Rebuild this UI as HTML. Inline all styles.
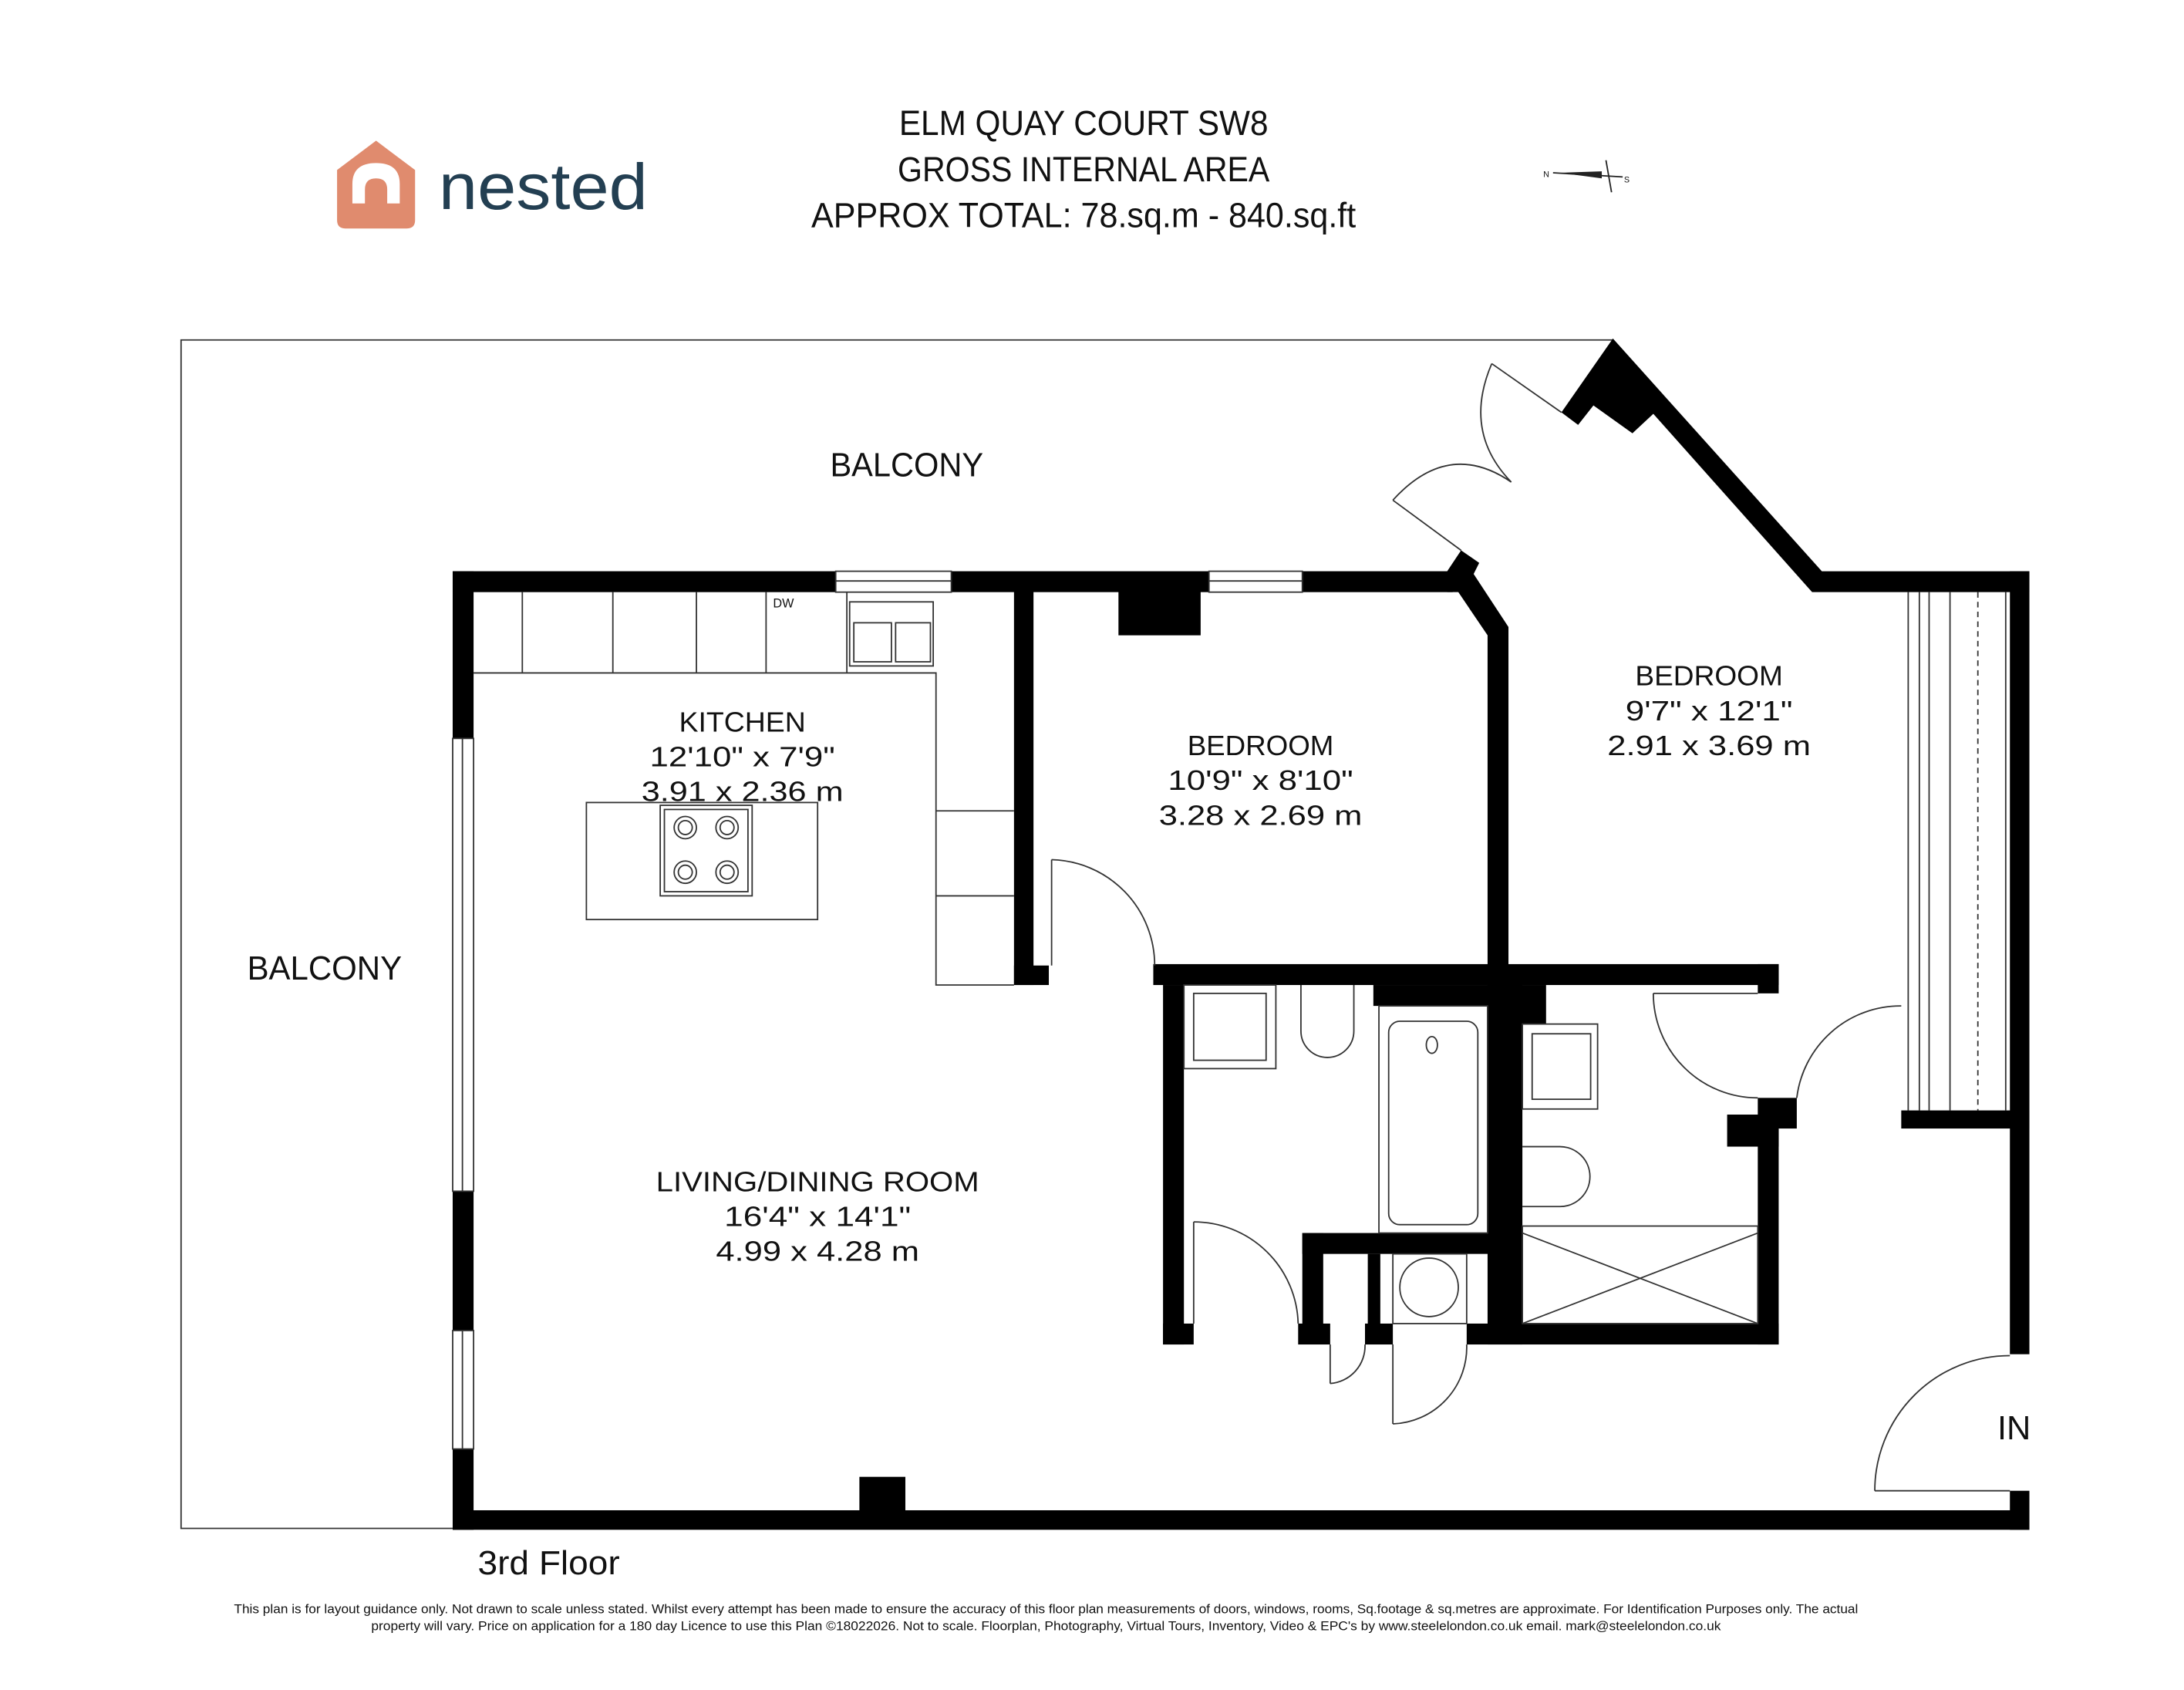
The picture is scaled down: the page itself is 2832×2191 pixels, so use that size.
<!DOCTYPE html>
<html><head><meta charset="utf-8"><style>
html,body{margin:0;padding:0;background:#fff}
svg{display:block}
text{font-family:"Liberation Sans",sans-serif;fill:#111}
</style></head><body>
<svg width="2832" height="2191" viewBox="0 0 1568 1213" preserveAspectRatio="none" xmlns="http://www.w3.org/2000/svg">
<rect width="1568" height="1213" fill="#fff"/>
<!-- logo -->
<path d="M242,122 L270,101 L298,122 L298,158 Q298,164 292,164 L248,164 Q242,164 242,158 Z" fill="#e08b6e"/>
<path d="M253,146 L253,132 Q253,117 270,117 Q287,117 287,132 L287,146 L278,146 L278,136 Q278,128 270,128 Q262,128 262,136 L262,146 Z" fill="#fff"/>
<text x="315" y="150" font-size="47" textLength="150" lengthAdjust="spacingAndGlyphs" style="fill:#233f52">nested</text>
<!-- title -->
<text x="778" y="97" font-size="25" text-anchor="middle" textLength="265" lengthAdjust="spacingAndGlyphs">ELM QUAY COURT SW8</text>
<text x="778" y="130" font-size="25" text-anchor="middle" textLength="267" lengthAdjust="spacingAndGlyphs">GROSS INTERNAL AREA</text>
<text x="778" y="163" font-size="25" text-anchor="middle" textLength="391" lengthAdjust="spacingAndGlyphs">APPROX TOTAL: 78.sq.m - 840.sq.ft</text>
<!-- compass -->
<g stroke="#222" stroke-width="1" fill="none">
<line x1="1115" y1="124" x2="1165" y2="127"/><line x1="1153" y1="115" x2="1157" y2="138"/>
</g>
<path d="M1120,124 L1150,123 L1150,128 Z" fill="#222"/>
<text x="1108" y="127" font-size="6">N</text><text x="1166" y="131" font-size="6">S</text>
<!-- balcony outline -->
<polyline points="1158,244 130,244 130,1097 325,1097" fill="none" stroke="#333" stroke-width="1"/>
<!-- walls -->
<g fill="#000">
<rect x="325" y="410" width="275" height="15"/>
<rect x="683" y="410" width="185" height="15"/>
<rect x="935" y="410" width="108" height="15"/>
<polygon points="1039,410 1049,395 1062,404 1058,412 1083,450 1083,700 1068,700 1068,456 1047,425 1039,425"/>
<polygon points="1158,243 1308,410 1457,410 1457,425 1301,425 1187,297 1172,311 1144,291 1133,305 1121,296"/>
<rect x="325" y="410" width="15" height="120"/>
<rect x="325" y="855" width="15" height="100"/>
<rect x="325" y="1040" width="15" height="58"/>
<rect x="325" y="1084" width="1132" height="14"/>
<rect x="617" y="1060" width="33" height="25"/>
<rect x="1443" y="410" width="14" height="562"/>
<rect x="1365" y="797" width="92" height="13"/>
<rect x="1443" y="1070" width="14" height="28"/>
<rect x="728" y="424" width="14" height="283"/>
<rect x="728" y="693" width="25" height="14"/>
<rect x="803" y="424" width="59" height="32"/>
<rect x="828" y="692" width="449" height="15"/>
<rect x="1262" y="692" width="15" height="21"/>
<rect x="835" y="707" width="15" height="258"/>
<rect x="835" y="950" width="22" height="15"/>
<rect x="932" y="950" width="23" height="15"/>
<rect x="980" y="950" width="20" height="15"/>
<rect x="1053" y="950" width="224" height="15"/>
<rect x="935" y="885" width="145" height="15"/>
<rect x="935" y="885" width="15" height="70"/>
<rect x="982" y="900" width="9" height="55"/>
<rect x="986" y="707" width="96" height="15"/>
<rect x="1068" y="695" width="25" height="270"/>
<rect x="1083" y="707" width="27" height="28"/>
<rect x="1262" y="810" width="15" height="155"/>
<rect x="1240" y="800" width="37" height="23"/>
<rect x="1262" y="788" width="28" height="22"/>
</g>
<!-- windows -->
<g fill="none" stroke="#333" stroke-width="1">
<rect x="600" y="410" width="83" height="15"/><line x1="600" y1="417" x2="683" y2="417"/>
<rect x="868" y="410" width="67" height="15"/><line x1="868" y1="417" x2="935" y2="417"/>
<rect x="325" y="530" width="15" height="325"/><line x1="332" y1="530" x2="332" y2="855"/>
<rect x="325" y="955" width="15" height="85"/><line x1="332" y1="955" x2="332" y2="1040"/>
<line x1="1370" y1="425" x2="1370" y2="797"/><line x1="1378" y1="425" x2="1378" y2="797"/>
<line x1="1385" y1="425" x2="1385" y2="797"/><line x1="1400" y1="425" x2="1400" y2="797"/>
<line x1="1420" y1="425" x2="1420" y2="797" stroke-dasharray="4,3"/><line x1="1440" y1="425" x2="1440" y2="797"/>
</g>
<!-- kitchen -->
<g fill="none" stroke="#333" stroke-width="1">
<polyline points="340,483 672,483 672,707 728,707"/>
<line x1="375" y1="425" x2="375" y2="483"/><line x1="440" y1="425" x2="440" y2="483"/>
<line x1="500" y1="425" x2="500" y2="483"/><line x1="550" y1="425" x2="550" y2="483"/>
<line x1="608" y1="425" x2="608" y2="483"/>
<rect x="610" y="432" width="60" height="46"/><rect x="613" y="447" width="27" height="28"/><rect x="643" y="447" width="25" height="28"/>
<line x1="672" y1="582" x2="728" y2="582"/><line x1="672" y1="643" x2="728" y2="643"/>
<rect x="421" y="576" width="166" height="84"/>
<rect x="474" y="578" width="66" height="65"/><rect x="477" y="581" width="60" height="59"/>
<circle cx="492" cy="594" r="8"/><circle cx="492" cy="594" r="5"/>
<circle cx="522" cy="594" r="8"/><circle cx="522" cy="594" r="5"/>
<circle cx="492" cy="626" r="8"/><circle cx="492" cy="626" r="5"/>
<circle cx="522" cy="626" r="8"/><circle cx="522" cy="626" r="5"/>
<!-- doors -->
<line x1="755" y1="617" x2="755" y2="693"/><path d="M755,617 A76,76 0 0 1 829,693"/>
<line x1="857" y1="877" x2="857" y2="950"/><path d="M857,877 A75,75 0 0 1 932,950"/>
<line x1="955" y1="993" x2="955" y2="965"/><path d="M955,993 A27,27 0 0 0 980,965"/>
<line x1="1000" y1="1022" x2="1000" y2="965"/><path d="M1000,1022 A55,55 0 0 0 1053,965"/>
<path d="M1187,713 A75,75 0 0 0 1262,788"/><line x1="1187" y1="713" x2="1262" y2="713"/>
<path d="M1290,788 A75,75 0 0 1 1365,722"/>
<path d="M1443,973 A97,97 0 0 0 1346,1070"/><line x1="1346" y1="1070" x2="1443" y2="1070"/>
<line x1="1121" y1="296" x2="1071" y2="261"/><path d="M1071,261 Q1050,310 1085,346"/>
<line x1="1049" y1="395" x2="1000" y2="359"/><path d="M1000,359 Q1040,315 1085,346"/>
<!-- bathroom fixtures -->
<rect x="850" y="707" width="66" height="60"/><rect x="857" y="713" width="52" height="48"/>
<path d="M934,707 L934,740 A19,19 0 0 0 972,740 L972,707"/>
<rect x="990" y="722" width="78" height="163"/><rect x="997" y="733" width="64" height="146" rx="8"/>
<ellipse cx="1028" cy="750" rx="4" ry="6"/>
<rect x="1093" y="735" width="54" height="61"/><rect x="1100" y="742" width="42" height="47"/>
<path d="M1093,823 L1120,823 A21,21 0 0 1 1120,866 L1093,866"/>
<rect x="1093" y="880" width="169" height="70"/>
<line x1="1093" y1="885" x2="1262" y2="950"/><line x1="1262" y1="885" x2="1093" y2="950"/>
<ellipse cx="1026" cy="924" rx="21" ry="21"/>
<rect x="1000" y="900" width="53" height="50"/>
</g>
<!-- room labels -->
<g font-size="20" text-anchor="middle">
<text x="651" y="342" font-size="24" textLength="110" lengthAdjust="spacingAndGlyphs">BALCONY</text>
<text x="233" y="703" font-size="24" textLength="111" lengthAdjust="spacingAndGlyphs">BALCONY</text>
<text x="533" y="525" textLength="91" lengthAdjust="spacingAndGlyphs">KITCHEN</text>
<text x="533" y="550" textLength="133" lengthAdjust="spacingAndGlyphs">12'10" x 7'9"</text>
<text x="533" y="575" textLength="145" lengthAdjust="spacingAndGlyphs">3.91 x 2.36 m</text>
<text x="905" y="542" textLength="105" lengthAdjust="spacingAndGlyphs">BEDROOM</text>
<text x="905" y="567" textLength="133" lengthAdjust="spacingAndGlyphs">10'9" x 8'10"</text>
<text x="905" y="592" textLength="146" lengthAdjust="spacingAndGlyphs">3.28 x 2.69 m</text>
<text x="1227" y="492" textLength="106" lengthAdjust="spacingAndGlyphs">BEDROOM</text>
<text x="1227" y="517" textLength="120" lengthAdjust="spacingAndGlyphs">9'7" x 12'1"</text>
<text x="1227" y="542" textLength="146" lengthAdjust="spacingAndGlyphs">2.91 x 3.69 m</text>
<text x="587" y="855" textLength="232" lengthAdjust="spacingAndGlyphs">LIVING/DINING ROOM</text>
<text x="587" y="880" textLength="134" lengthAdjust="spacingAndGlyphs">16'4" x 14'1"</text>
<text x="587" y="905" textLength="146" lengthAdjust="spacingAndGlyphs">4.99 x 4.28 m</text>
<text x="1446" y="1033" font-size="24">IN</text>
<text x="394" y="1130" font-size="24" textLength="102" lengthAdjust="spacingAndGlyphs">3rd Floor</text>
</g>
<text x="555" y="436" font-size="9">DW</text>
<text x="751" y="1158" font-size="9" text-anchor="middle" textLength="1166" lengthAdjust="spacingAndGlyphs">This plan is for layout guidance only. Not drawn to scale unless stated. Whilst every attempt has been made to ensure the accuracy of this floor plan measurements of doors, windows, rooms, Sq.footage &amp; sq.metres are approximate. For Identification Purposes only. The actual</text>
<text x="751" y="1170" font-size="9" text-anchor="middle" textLength="969" lengthAdjust="spacingAndGlyphs">property will vary. Price on application for a 180 day Licence to use this Plan ©18022026. Not to scale. Floorplan, Photography, Virtual Tours, Inventory, Video &amp; EPC's by www.steelelondon.co.uk  email. mark@steelelondon.co.uk</text>
</svg>
</body></html>
